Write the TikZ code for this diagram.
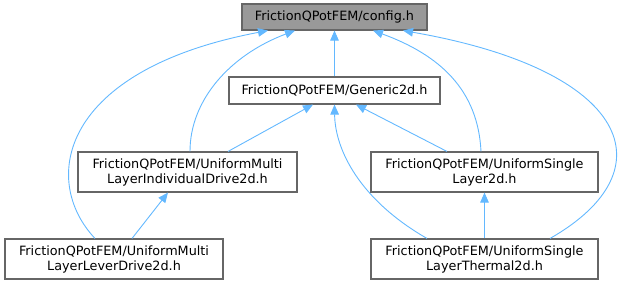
\documentclass[tikz,border=0pt]{standalone}
\usepackage{fontspec}
\setmainfont{DejaVu Sans}
\usetikzlibrary{arrows.meta}
\definecolor{edgeblue}{HTML}{63B8FF}
\definecolor{boxline}{HTML}{666666}
\definecolor{rootfill}{HTML}{999999}
\begin{document}
\begin{tikzpicture}[x=1pt,y=-1pt,
  file/.style={draw=boxline,line width=1.1pt,fill=white,rectangle,inner sep=0pt,
    align=center,font=\fontsize{12.8}{15}\selectfont},
  rootfile/.style={file,fill=rootfill},
  incl/.style={draw=edgeblue,line width=0.9pt,-{Triangle[length=10pt,width=8.5pt]}}]
\useasboundingbox (0,0) rectangle (623,285);

% header nodes
\node[rootfile,minimum width=185pt,minimum height=26pt] (config) at (334.5,17) {FrictionQPotFEM/config.h};
\node[file,minimum width=211pt,minimum height=27pt] (generic) at (334.5,90.5) {FrictionQPotFEM/Generic2d.h};
\node[file,minimum width=219pt,minimum height=40pt] (indiv) at (187.5,172) {FrictionQPotFEM/UniformMulti\\LayerIndividualDrive2d.h};
\node[file,minimum width=218pt,minimum height=40pt] (lever) at (114,259) {FrictionQPotFEM/UniformMulti\\LayerLeverDrive2d.h};
\node[file,minimum width=227pt,minimum height=40pt] (single) at (484.5,172) {FrictionQPotFEM/UniformSingle\\Layer2d.h};
\node[file,minimum width=227pt,minimum height=40pt] (thermal) at (484.5,259) {FrictionQPotFEM/UniformSingle\\LayerThermal2d.h};

% include relations (arrow points to the included file)
\draw[incl] (generic.north) -- (config.south);
\draw[incl] ([xshift=-19pt]lever.north) .. controls (40,180) and (60,70) .. ([xshift=-66.5pt]config.south);
\draw[incl] ([xshift=2.5pt]indiv.north) .. controls (190,100) and (230,55) .. ([xshift=-39.5pt]config.south);
\draw[incl] ([xshift=-3.5pt]single.north) .. controls (478,90) and (440,55) .. ([xshift=38.5pt]config.south);
\draw[incl] ([xshift=65.5pt]thermal.north) .. controls (670,170) and (630,70) .. ([xshift=68.5pt]config.south);
\draw[incl] ([xshift=40.5pt]indiv.north) -- ([xshift=-21.5pt]generic.south);
\draw[incl] ([xshift=-37.5pt]single.north) -- ([xshift=21.5pt]generic.south);
\draw[incl] ([xshift=-57.5pt]thermal.north) .. controls (360,200) and (335,150) .. (generic.south);
\draw[incl] ([xshift=18pt]lever.north) -- ([xshift=-19.5pt]indiv.south);
\draw[incl] (thermal.north) -- (single.south);
\end{tikzpicture}
\end{document}
